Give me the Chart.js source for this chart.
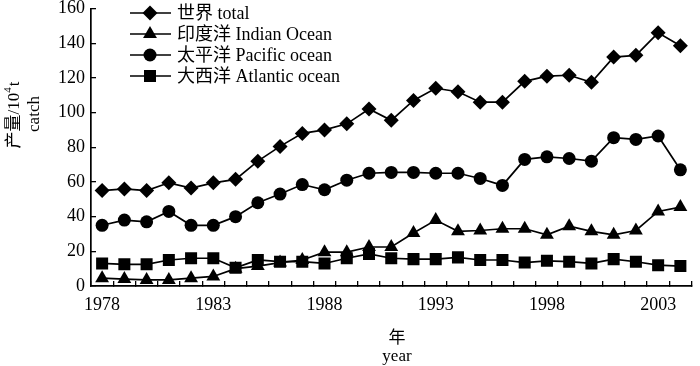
<!DOCTYPE html>
<html><head><meta charset="utf-8">
<script src="https://cdn.jsdelivr.net/npm/chart.js@4.4.1/dist/chart.umd.min.js"></script>
<style>html,body{margin:0;padding:0;background:#fff}#wrap{width:700px;height:366px;position:relative}</style>
</head><body><div id="wrap"><canvas id="c" width="700" height="366"></canvas></div>
<script>
const years = [1978,1979,1980,1981,1982,1983,1984,1985,1986,1987,1988,1989,1990,1991,1992,1993,1994,1995,1996,1997,1998,1999,2000,2001,2002,2003,2004];
const totalCatch = [55,56,55,59.5,56.5,59.5,61.5,72,80.5,88,90,93.5,102,95.5,107,114,112,106,106,118,121,121.5,117.5,132,133,146,138.5];
const indianCatch = [4.5,4,3.5,3.5,4.5,5.5,10,11.5,13.5,15,19.5,19.5,22.5,22.5,30.5,38,31.5,32,33,33,29.5,34.5,31.5,29.5,32,43,45.5];
const pacificCatch = [35,38,37,43,35,35,40,48,53,58.5,55.5,61,65,65.5,65.5,65,65,62,58,73,74.5,73.5,72,85.5,84.5,86.5,67];
const atlanticCatch = [13,12.5,12.5,15,16,16,10.5,15,14,14,13,16,18.5,16,15.5,15.5,16.5,15,15,13.5,14.5,14,13,15.5,14,12,11.5];
const seriesLabels = ['世界 total','印度洋 Indian Ocean','太平洋 Pacific ocean','大西洋 Atlantic ocean'];
const yTicks = [0,20,40,60,80,100,120,140,160];
const xLabelYears = [1978,1983,1988,1993,1998,2003];

const FONT = '"Liberation Serif","Noto Sans CJK SC",serif';

function ds(label, data, style, radius){
  return {label, data, borderColor:'#000', backgroundColor:'#000', borderWidth:1.7,
    pointStyle:style, pointRadius:radius, pointHoverRadius:radius, pointBorderWidth:0, tension:0};
}

const legendPlugin = {
  id:'customLegend',
  afterDatasetsDraw(chart){
    const ctx = chart.ctx;
    ctx.save();
    chart.data.datasets.forEach((d,i)=>{
      const y = 13 + i*21;
      ctx.strokeStyle='#000'; ctx.lineWidth=1.7;
      ctx.beginPath(); ctx.moveTo(130,y); ctx.lineTo(171,y); ctx.stroke();
      ctx.fillStyle='#000';
      Chart.helpers.drawPoint(ctx,{pointStyle:d.pointStyle,radius:d.pointRadius,rotation:0,borderWidth:0},150,y);
      ctx.font = '18px '+FONT;
      ctx.textBaseline='middle'; ctx.textAlign='left';
      ctx.fillText(d.label,177,y+1);
    });
    ctx.restore();
  }
};

const titlePlugin = {
  id:'axisTitles',
  afterDraw(chart){
    const ctx = chart.ctx;
    ctx.save();
    ctx.fillStyle='#000';
    ctx.textAlign='center'; ctx.textBaseline='middle';
    ctx.font='17px '+FONT;
    ctx.fillText('年',397,339);
    ctx.fillText('year',397,357);
    ctx.save();
    ctx.translate(15,115);
    ctx.rotate(-Math.PI/2);
    const p1='产量/10', p2='t';
    ctx.font='17px '+FONT;
    const w1=ctx.measureText(p1).width;
    ctx.font='11px '+FONT;
    const ws=ctx.measureText('4').width;
    ctx.font='17px '+FONT;
    const w2=ctx.measureText(p2).width;
    const tot=w1+ws+w2+1;
    let x=-tot/2;
    ctx.textAlign='left';
    ctx.fillText(p1,x,0); x+=w1;
    ctx.font='11px '+FONT;
    ctx.fillText('4',x,-7); x+=ws+1;
    ctx.font='17px '+FONT;
    ctx.fillText(p2,x,0);
    ctx.restore();
    ctx.save();
    ctx.translate(35,114);
    ctx.rotate(-Math.PI/2);
    ctx.textAlign='center';
    ctx.font='17px '+FONT;
    ctx.fillText('catch',0,0);
    ctx.restore();
    ctx.restore();
  }
};

new Chart(document.getElementById('c'),{
  type:'line',
  data:{
    labels: years.map(String),
    datasets:[
      ds(seriesLabels[0], totalCatch, 'rectRot', 7.5),
      ds(seriesLabels[1], indianCatch, 'triangle', 8),
      ds(seriesLabels[2], pacificCatch, 'circle', 6.5),
      ds(seriesLabels[3], atlanticCatch, 'rect', 8.5)
    ]
  },
  options:{
    responsive:false, animation:false, devicePixelRatio:1,
    layout:{padding:{top:5,right:2,left:0,bottom:0}},
    plugins:{legend:{display:false}, tooltip:{enabled:false}},
    scales:{
      x:{
        type:'category', offset:true,
        grid:{offset:true, drawOnChartArea:false, drawTicks:true, tickLength:-5, color:'#000', lineWidth:1.3},
        border:{display:true, color:'#000', width:1.7},
        ticks:{autoSkip:false, maxRotation:0, color:'#000', font:{family:FONT,size:18}, padding:13,
          callback:function(v,i){ const y=years[i]; return xLabelYears.includes(y)?String(y):''; }},
        afterFit(s){ s.height=80; s.paddingLeft=0; s.paddingRight=0; }
      },
      y:{
        min:0, max:160,
        afterBuildTicks(s){ s.ticks = yTicks.map(v=>({value:v})); },
        grid:{drawOnChartArea:false, drawTicks:true, tickLength:-5, color:'#000', lineWidth:1.3},
        border:{display:true, color:'#000', width:1.7},
        ticks:{color:'#000', font:{family:FONT,size:18}, padding:11},
        afterFit(s){ s.width=91; s.paddingTop=0; s.paddingBottom=0; }
      }
    }
  },
  plugins:[legendPlugin,titlePlugin]
});
</script></body></html>
